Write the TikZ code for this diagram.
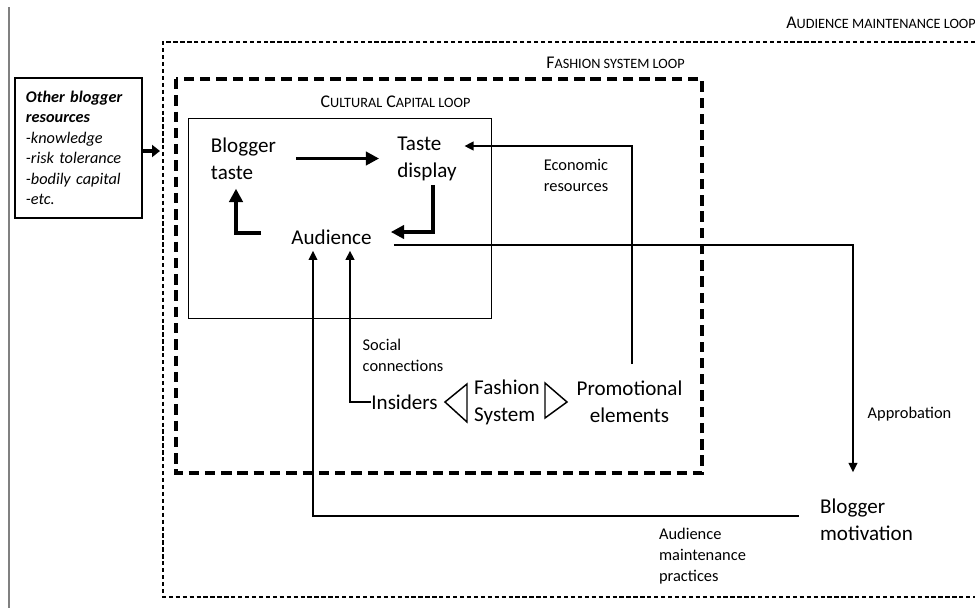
\documentclass[tikz,border=0pt]{standalone}
\usepackage{fontspec}
\setmainfont{Carlito}
\usetikzlibrary{arrows.meta}
\newcommand{\smc}[1]{{\fontsize{10.7pt}{12pt}\selectfont #1}}
\begin{document}
\begin{tikzpicture}[x=0.75pt,y=-0.75pt,
  maintext/.style={font=\fontsize{15.8pt}{20.3pt}\selectfont, inner sep=0pt, align=left},
  smalltext/.style={font=\fontsize{12.3pt}{15.8pt}\selectfont, inner sep=0pt, align=left},
  looplabel/.style={font=\fontsize{13.4pt}{16pt}\selectfont, inner sep=0pt},
  bigarrow/.style={line width=2.6pt, -{Triangle[length=10pt,width=10pt]}},
  medarrow/.style={line width=1.9pt, -{Triangle[length=7pt,width=6.5pt]}},
  thinarrow/.style={line width=1.4pt, -{Triangle[length=7pt,width=6.5pt]}},
  tri/.style={line width=1.1pt, line join=miter},
]
\useasboundingbox (0,0) rectangle (975,608);
\fill[white] (0,0) rectangle (975,608);

% left margin rule
\draw[gray, line width=0.9pt] (9,7) -- (9,608);

% loop frames
\draw[line width=1.3pt, dash pattern=on 3.2pt off 2pt] (975,42) -- (163,42) -- (163,597) -- (975,597);
\draw[line width=2.4pt, dash pattern=on 7.8pt off 4.4pt] (176,79) rectangle (702,473);
\draw[line width=0.75pt] (188,118) rectangle (491,318);

% loop labels
\node[looplabel, anchor=east] (aml) at (976,23) {A\smc{UDIENCE MAINTENANCE LOOP}};
\node[looplabel] (fsl) at (615.5,63) {F\smc{ASHION SYSTEM LOOP}};
\node[looplabel] (ccl) at (395.5,102) {C\smc{ULTURAL} C\smc{APITAL LOOP}};

% resources box
\node[draw, line width=1pt, align=left, text width=78.75pt, inner xsep=8.25pt,
      minimum height=105pt, font=\fontsize{12.2pt}{15.4pt}\selectfont\itshape]
      (other) at (78.5,148)
      {\textbf{Other blogger}\\\textbf{resources}\\-knowledge\\-risk tolerance\\-bodily capital\\-etc.};

% main nodes
\node[maintext] (btaste) at (243.5,158.5) {Blogger\\taste};
\node[maintext] (tdisp) at (427,158.5) {Taste\\display};
\node[maintext] (aud) at (331.5,237) {Audience};
\node[maintext] (ins) at (404.5,402) {Insiders};
\node[maintext] (fs) at (507,402.5) {Fashion\\System};
\node[maintext, align=center] (promo) at (629.5,402) {Promotional\\elements};
\node[maintext] (bmot) at (866.5,520) {Blogger\\motivation};

% small labels
\node[smalltext] (econ) at (576,175.5) {Economic\\resources};
\node[smalltext] (soc) at (403,355.5) {Social\\connections};
\node[smalltext] (appr) at (909.5,414) {Approbation};
\node[smalltext] (amp) at (702.5,556) {Audience\\maintenance\\practices};

% triangles of the fashion system
\draw[tri] (445,402) -- (467,384) -- (467,422) -- cycle;
\draw[tri] (567,402) -- (545,383) -- (545,418) -- cycle;

% connectors
\coordinate (inTip) at (160,151);
\draw[line width=2.6pt, -{Triangle[length=6pt,width=9pt]}] (other.east |- inTip) -- (inTip);

\draw[bigarrow, shorten <=15pt, shorten >=13.5pt] (btaste.east) -- (tdisp.west);

\coordinate (tdCorner) at (433,232);
\draw[bigarrow, shorten <=3pt, shorten >=14.25pt] (tdisp.south -| tdCorner) -- (tdCorner) -- (aud.east |- tdCorner);

\coordinate (abCorner) at (236,233);
\draw[bigarrow, shorten <=22.5pt, shorten >=6.75pt] (aud.west |- abCorner) -- (abCorner) -- (abCorner |- btaste.south);

\coordinate (ecCorner) at (632,146);
\draw[medarrow, shorten <=12.5pt, shorten >=5.6pt] (promo.north -| ecCorner) -- (ecCorner) -- (tdisp.east |- ecCorner);

\coordinate (apCorner) at (853,245);
\draw[thinarrow, shorten <=16.5pt, shorten >=20pt] (aud.east |- apCorner) -- (apCorner) -- (apCorner |- bmot.north);

\coordinate (inCorner) at (350,402);
\draw[medarrow, shorten >=4.5pt] (ins.west) -- (inCorner) -- (inCorner |- aud.south);

\coordinate (amCorner) at (313,516);
\draw[thinarrow, shorten <=15.75pt, shorten >=4.5pt] (bmot.west |- amCorner) -- (amCorner) -- (amCorner |- aud.south);
\end{tikzpicture}
\end{document}
